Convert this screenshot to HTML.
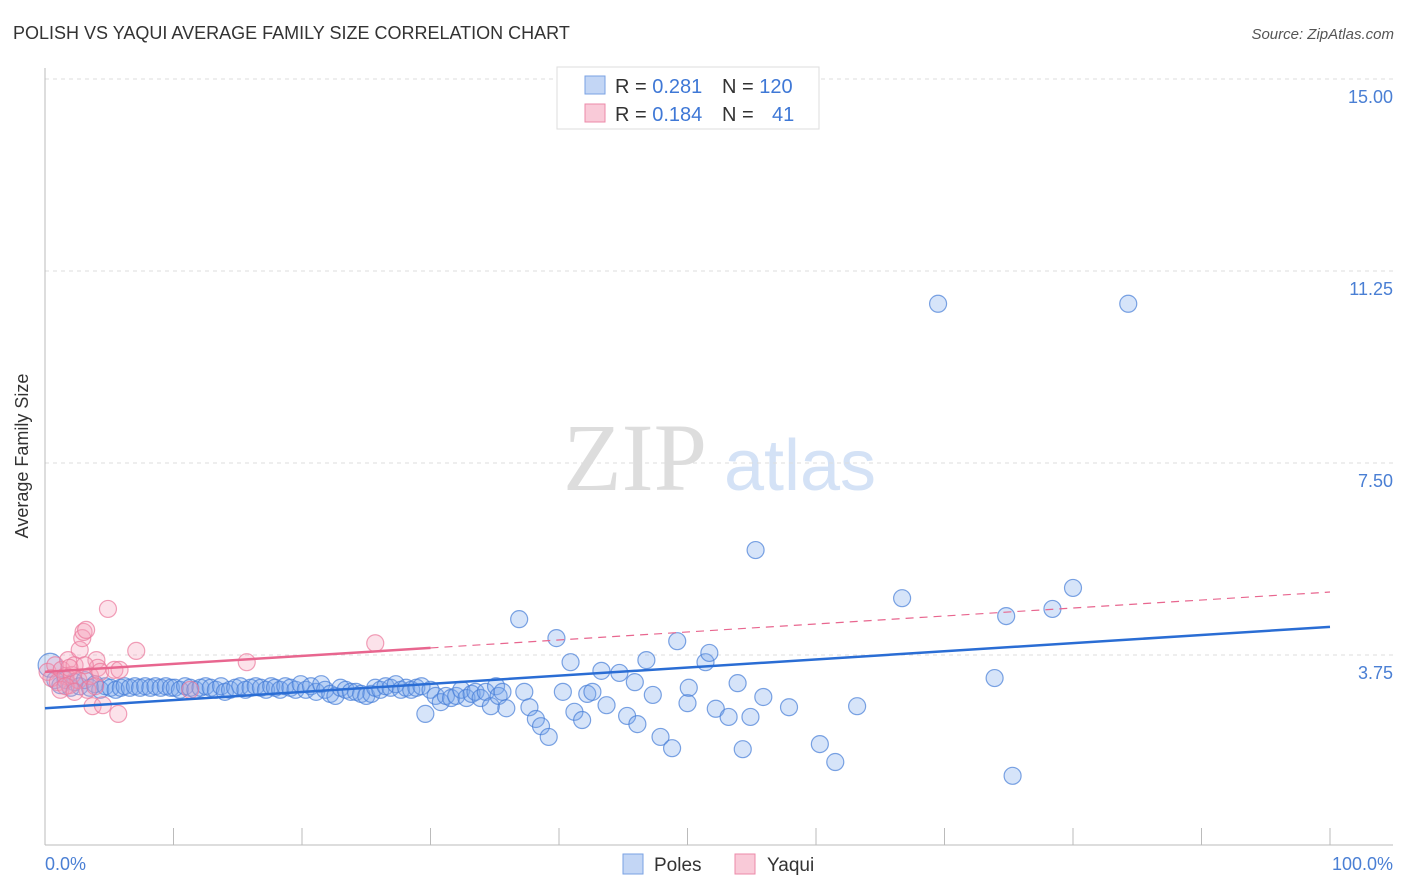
<!DOCTYPE html>
<html><head><meta charset="utf-8"><style>
body{margin:0;background:#fff;font-family:"Liberation Sans",sans-serif}
svg{display:block}
</style></head><body>
<svg id="chart" width="1406" height="892">
<text x="13" y="39" font-size="18" fill="#333">POLISH VS YAQUI AVERAGE FAMILY SIZE CORRELATION CHART</text>
<text x="1394" y="39" font-size="15" fill="#555" font-style="italic" text-anchor="end">Source: ZipAtlas.com</text>
<g>
<text x="635" y="490" font-size="96" fill="#ddd" font-family="Liberation Serif" text-anchor="middle">ZIP</text>
<text x="800" y="490" font-size="72" fill="#d4e2f6" text-anchor="middle">atlas</text>
</g>
<g id="grid"></g>
<g id="axes"></g>
<g id="marks"></g>
<text x="28" y="456" font-size="18" fill="#333" text-anchor="middle" transform="rotate(-90 28 456)">Average Family Size</text>
<text x="45" y="870" font-size="18" fill="#4a7fd4">0.0%</text>
<text x="1393" y="870" font-size="18" fill="#4a7fd4" text-anchor="end">100.0%</text>
<g>
<rect x="557" y="67" width="262" height="62" fill="#fff" stroke="#ddd"/>
<rect x="585" y="76" width="20" height="18" fill="#c3d6f5" stroke="#7aa2e3"/>
<rect x="585" y="104" width="20" height="18" fill="#f9cad8" stroke="#ec8aa8"/>
<text x="615" y="93" font-size="20" fill="#333">R = <tspan fill="#3f78d6">0.281</tspan></text>
<text x="722" y="93" font-size="20" fill="#333">N = <tspan fill="#3f78d6">120</tspan></text>
<text x="615" y="121" font-size="20" fill="#333">R = <tspan fill="#3f78d6">0.184</tspan></text>
<text x="722" y="121" font-size="20" fill="#333">N = <tspan fill="#3f78d6" x="772">41</tspan></text>
</g>
<g>
<rect x="623" y="854" width="20" height="20" fill="#c3d6f5" stroke="#7aa2e3"/>
<text x="654" y="871" font-size="19" fill="#333">Poles</text>
<rect x="735" y="854" width="20" height="20" fill="#f9cad8" stroke="#ec8aa8"/>
<text x="767" y="871" font-size="19" fill="#333">Yaqui</text>
</g>
</svg>
<script>
const yTicks=[3.75,7.50,11.25,15.00];
const yTickLabels=["3.75","7.50","11.25","15.00"];
const xTicks=[0,10,20,30,40,50,60,70,80,90,100];
const polesX=[0.4,0.8,1.2,1.6,2.0,2.3,2.7,3.1,3.5,3.9,4.3,4.7,5.1,5.5,5.9,6.2,6.6,7.0,7.4,7.8,8.2,8.6,9.0,9.4,9.8,10.1,10.5,10.9,11.3,11.7,12.1,12.5,12.9,13.3,13.7,14.0,14.4,14.8,15.2,15.6,16.0,16.4,16.8,17.2,17.6,17.9,18.3,18.7,19.1,19.5,19.9,20.3,20.7,21.1,21.5,21.8,22.2,22.6,23.0,23.4,23.8,24.2,24.6,25.0,25.4,25.7,26.1,26.5,26.9,27.3,27.7,28.1,28.5,28.9,29.3,29.6,30.0,30.4,30.8,31.2,31.6,32.0,32.4,32.8,33.2,33.5,33.9,34.3,34.7,35.1,35.3,35.6,35.9,
36.9,37.3,37.7,38.2,38.6,39.2,39.8,40.3,40.9,41.2,41.8,42.2,42.6,43.3,43.7,44.7,45.3,45.9,46.1,46.8,47.3,47.9,48.8,49.2,50.0,50.1,51.4,51.7,52.2,53.2,53.9,54.3,54.9,55.3,55.9,57.9,60.3,61.5,63.2,66.7,69.5,73.9,74.8,75.3,78.4,80.0,84.3];
const polesY=[3.55,3.26,3.16,3.26,3.11,3.22,3.14,3.26,3.11,3.18,3.07,3.14,3.11,3.07,3.11,3.14,3.11,3.14,3.11,3.14,3.11,3.14,3.11,3.14,3.11,3.11,3.07,3.14,3.11,3.07,3.11,3.14,3.11,3.07,3.14,3.03,3.07,3.11,3.14,3.07,3.11,3.14,3.11,3.07,3.14,3.11,3.07,3.14,3.11,3.07,3.18,3.07,3.14,3.03,3.18,3.07,2.99,2.95,3.11,3.07,3.03,3.03,2.99,2.95,2.99,3.11,3.07,3.14,3.11,3.18,3.07,3.11,3.07,3.11,3.14,2.60,3.07,2.95,2.83,2.95,2.91,2.95,3.07,2.91,2.99,3.03,2.91,3.03,2.75,3.14,2.95,3.03,2.71,
4.45,3.03,2.73,2.50,2.36,2.15,4.08,3.03,3.61,2.64,2.48,2.99,3.03,3.44,2.77,3.40,2.56,3.22,2.40,3.65,2.97,2.15,1.93,4.02,2.81,3.11,3.61,3.79,2.70,2.54,3.20,1.91,2.54,5.80,2.93,2.73,2.01,1.66,2.75,4.86,10.61,3.30,4.51,1.39,4.65,5.06,10.61];
const yaquiX=[0.2,0.5,0.8,1.0,1.3,1.6,1.8,1.9,2.1,2.3,2.6,2.7,2.9,3.0,3.2,3.3,3.5,3.7,4.0,4.1,4.3,4.5,4.9,5.4,5.7,5.8,7.1,11.3,15.7,25.7,1.2,1.6,2.3,3.1,3.9,1.9];
const yaquiY=[3.42,3.30,3.55,3.22,3.46,3.34,3.65,3.16,3.36,3.55,3.26,3.85,4.08,4.20,4.24,3.07,3.34,2.75,3.65,3.50,3.42,2.77,4.65,3.46,2.60,3.46,3.83,3.07,3.61,3.98,3.07,3.14,3.03,3.55,3.14,3.50];
const polesTrend=[2.71,4.30];
const yaquiTrend=[3.42,4.98];
const yaquiSolidEnd=30;

const NS="http://www.w3.org/2000/svg";
const X=v=>45+v*12.85;
const Y=v=>847-v*51.2;
function mk(tag,attrs,parent){const e=document.createElementNS(NS,tag);for(const k in attrs)e.setAttribute(k,attrs[k]);parent.appendChild(e);return e;}
const grid=document.getElementById('grid'),axes=document.getElementById('axes'),marks=document.getElementById('marks');
yTicks.forEach((t,i)=>{
 const l=mk('line',{x1:45,x2:1393,y1:Y(t),y2:Y(t),stroke:'#ddd','stroke-dasharray':'4,4'},grid);
 
 
 const tx=mk('text',{x:1393,y:Y(t)+24,'font-size':18,fill:'#4a7fd4','text-anchor':'end'},grid);
 tx.textContent=yTickLabels[i];
 
 
});
const ya=mk('line',{x1:45,x2:45,y1:68,y2:845,stroke:'#bbb'},axes);


const xa=mk('line',{x1:45,x2:1393,y1:845,y2:845,stroke:'#bbb'},axes);


xTicks.forEach(t=>{
 const l=mk('line',{x1:X(t),x2:X(t),y1:828,y2:845,stroke:'#bbb'},axes);
 
 
});
function pts(xs,ys,fill,stroke,name){
 const n=Math.min(xs.length,ys.length);
 for(let i=0;i<n;i++){
  const c=mk('circle',{cx:X(xs[i]),cy:Y(ys[i]),r:(i===0&&name==='poles-point')?12:8.5,fill:fill,stroke:stroke,'stroke-width':1.2},marks);
  
  
 }
}
pts(polesX,polesY,'rgba(120,165,235,0.3)','rgba(70,125,215,0.7)','poles-point');
pts(yaquiX,yaquiY,'rgba(245,160,185,0.3)','rgba(235,120,155,0.7)','yaqui-point');
const bl=mk('line',{x1:X(0),y1:Y(polesTrend[0]),x2:X(100),y2:Y(polesTrend[1]),stroke:'#2a6dd4','stroke-width':2.5},marks);


const yAt=x=>yaquiTrend[0]+(yaquiTrend[1]-yaquiTrend[0])*x/100;
const ps=mk('line',{x1:X(0),y1:Y(yAt(0)),x2:X(yaquiSolidEnd),y2:Y(yAt(yaquiSolidEnd)),stroke:'#e8668f','stroke-width':2.5},marks);


const pd=mk('line',{x1:X(yaquiSolidEnd),y1:Y(yAt(yaquiSolidEnd)),x2:X(100),y2:Y(yAt(100)),stroke:'#e8668f','stroke-width':1.2,'stroke-dasharray':'8,6'},marks);


</script>
</body></html>
